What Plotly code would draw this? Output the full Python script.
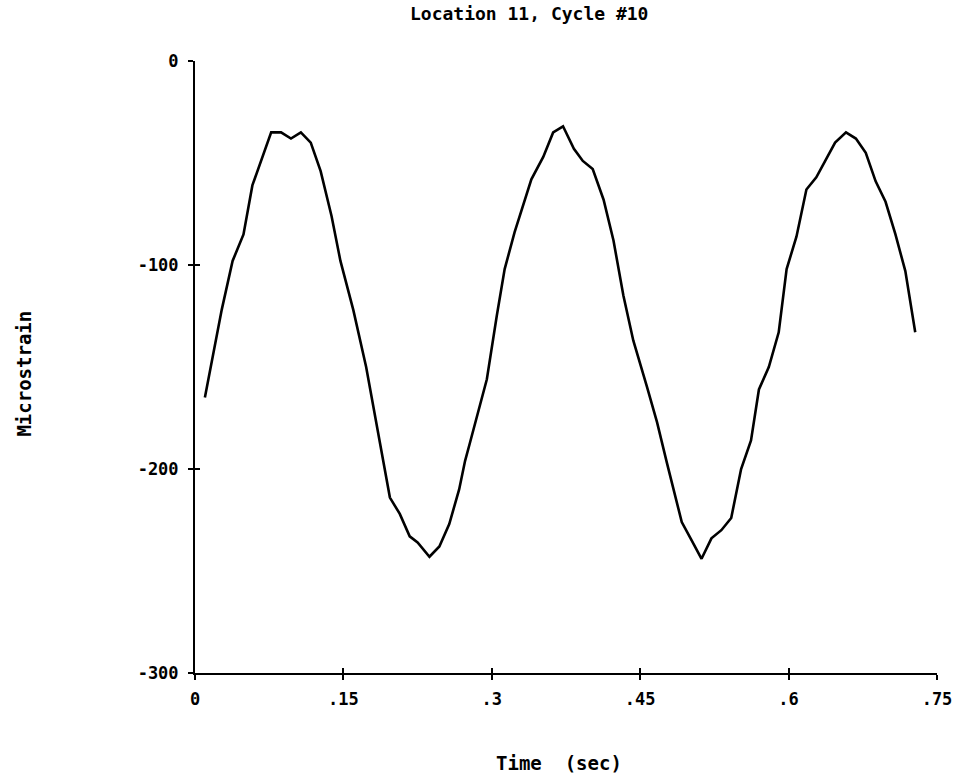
import plotly.graph_objects as go

# Time (sec) and microstrain values
time_sec = [0.010, 0.027, 0.038, 0.049, 0.058, 0.070, 0.077, 0.087, 0.097, 0.107,
            0.117, 0.127, 0.138, 0.147, 0.160, 0.173, 0.188, 0.197, 0.207, 0.217,
            0.225, 0.237, 0.247, 0.257, 0.267, 0.273, 0.278, 0.290, 0.295, 0.305,
            0.313, 0.323, 0.340, 0.352, 0.362, 0.372, 0.383, 0.392, 0.402, 0.413,
            0.423, 0.433, 0.443, 0.457, 0.467, 0.477, 0.485, 0.492, 0.502, 0.512,
            0.522, 0.532, 0.542, 0.552, 0.562, 0.570, 0.580, 0.590, 0.598, 0.608,
            0.618, 0.628, 0.637, 0.647, 0.658, 0.668, 0.678, 0.688, 0.698, 0.708,
            0.718, 0.728]
microstrain = [-165, -122, -98, -85, -61, -45, -35, -35, -38, -35,
               -40, -54, -76, -98, -122, -150, -191, -214, -222, -233,
               -236, -243, -238, -227, -210, -196, -187, -166, -156, -125,
               -102, -84, -58, -47, -35, -32, -43, -49, -53, -68,
               -88, -115, -137, -160, -177, -197, -212, -226, -235, -244,
               -234, -230, -224, -200, -186, -161, -150, -133, -102, -86,
               -63, -57, -49, -40, -35, -38, -45, -59, -69, -85,
               -103, -133]

x_ticks = [0, 0.15, 0.3, 0.45, 0.6, 0.75]
x_tick_labels = ["0", ".15", ".3", ".45", ".6", ".75"]
y_ticks = [0, -100, -200, -300]
y_tick_labels = ["0", "-100", "-200", "-300"]

title_text = "Location 11, Cycle #10"
x_title = "Time  (sec)"
y_title = "Microstrain"

FONT = "DejaVu Sans Mono"

fig = go.Figure()
fig.add_trace(go.Scatter(x=time_sec, y=microstrain, mode="lines",
                         line=dict(color="black", width=2.6),
                         hoverinfo="skip", showlegend=False))
# invisible trace on overlay axes to draw inward tick halves
fig.add_trace(go.Scatter(x=[time_sec[0]], y=[microstrain[0]], mode="markers",
                         marker=dict(opacity=0), xaxis="x2", yaxis="y2",
                         hoverinfo="skip", showlegend=False))

fig.update_layout(
    width=964, height=783,
    margin=dict(l=195, r=20, t=61, b=110),
    paper_bgcolor="white", plot_bgcolor="white",
    xaxis=dict(range=[0, 0.75], tickvals=x_ticks, ticktext=x_tick_labels,
               showgrid=False, zeroline=False, showline=True, linecolor="black",
               linewidth=2, ticks="outside", ticklen=5, tickwidth=2, tickcolor="black",
               tickfont=dict(family=FONT, size=17, color="black", weight="bold"),
               ticklabelstandoff=5),
    yaxis=dict(range=[-300, 0], tickvals=y_ticks, ticktext=y_tick_labels,
               showgrid=False, zeroline=False, showline=True, linecolor="black",
               linewidth=2, ticks="outside", ticklen=5, tickwidth=2, tickcolor="black",
               tickfont=dict(family=FONT, size=17, color="black", weight="bold"),
               ticklabelstandoff=6),
    xaxis2=dict(range=[0, 0.75], tickvals=x_ticks, overlaying="x", side="bottom",
                showticklabels=False, showgrid=False, zeroline=False, showline=False,
                ticks="inside", ticklen=5, tickwidth=2, tickcolor="black"),
    yaxis2=dict(range=[-300, 0], tickvals=y_ticks, overlaying="y", side="left",
                showticklabels=False, showgrid=False, zeroline=False, showline=False,
                ticks="inside", ticklen=5, tickwidth=2, tickcolor="black"),
    annotations=[
        dict(text=title_text, xref="paper", yref="paper",
             x=(532 - 195) / 749, y=1 + (61 - 13) / 612, xanchor="center", yanchor="middle",
             showarrow=False, font=dict(family=FONT, size=18, color="black", weight="bold")),
        dict(text=x_title, xref="paper", yref="paper",
             x=(562 - 195) / 749, y=-(763 - 673) / 612, xanchor="center", yanchor="middle",
             showarrow=False, font=dict(family=FONT, size=19, color="black", weight="bold")),
        dict(text=y_title, xref="paper", yref="paper", textangle=-90,
             x=-(195 - 22) / 749, y=(673 - 374) / 612, xanchor="center", yanchor="middle",
             showarrow=False, font=dict(family=FONT, size=19, color="black", weight="bold")),
    ],
)

fig.write_html("out.html")
